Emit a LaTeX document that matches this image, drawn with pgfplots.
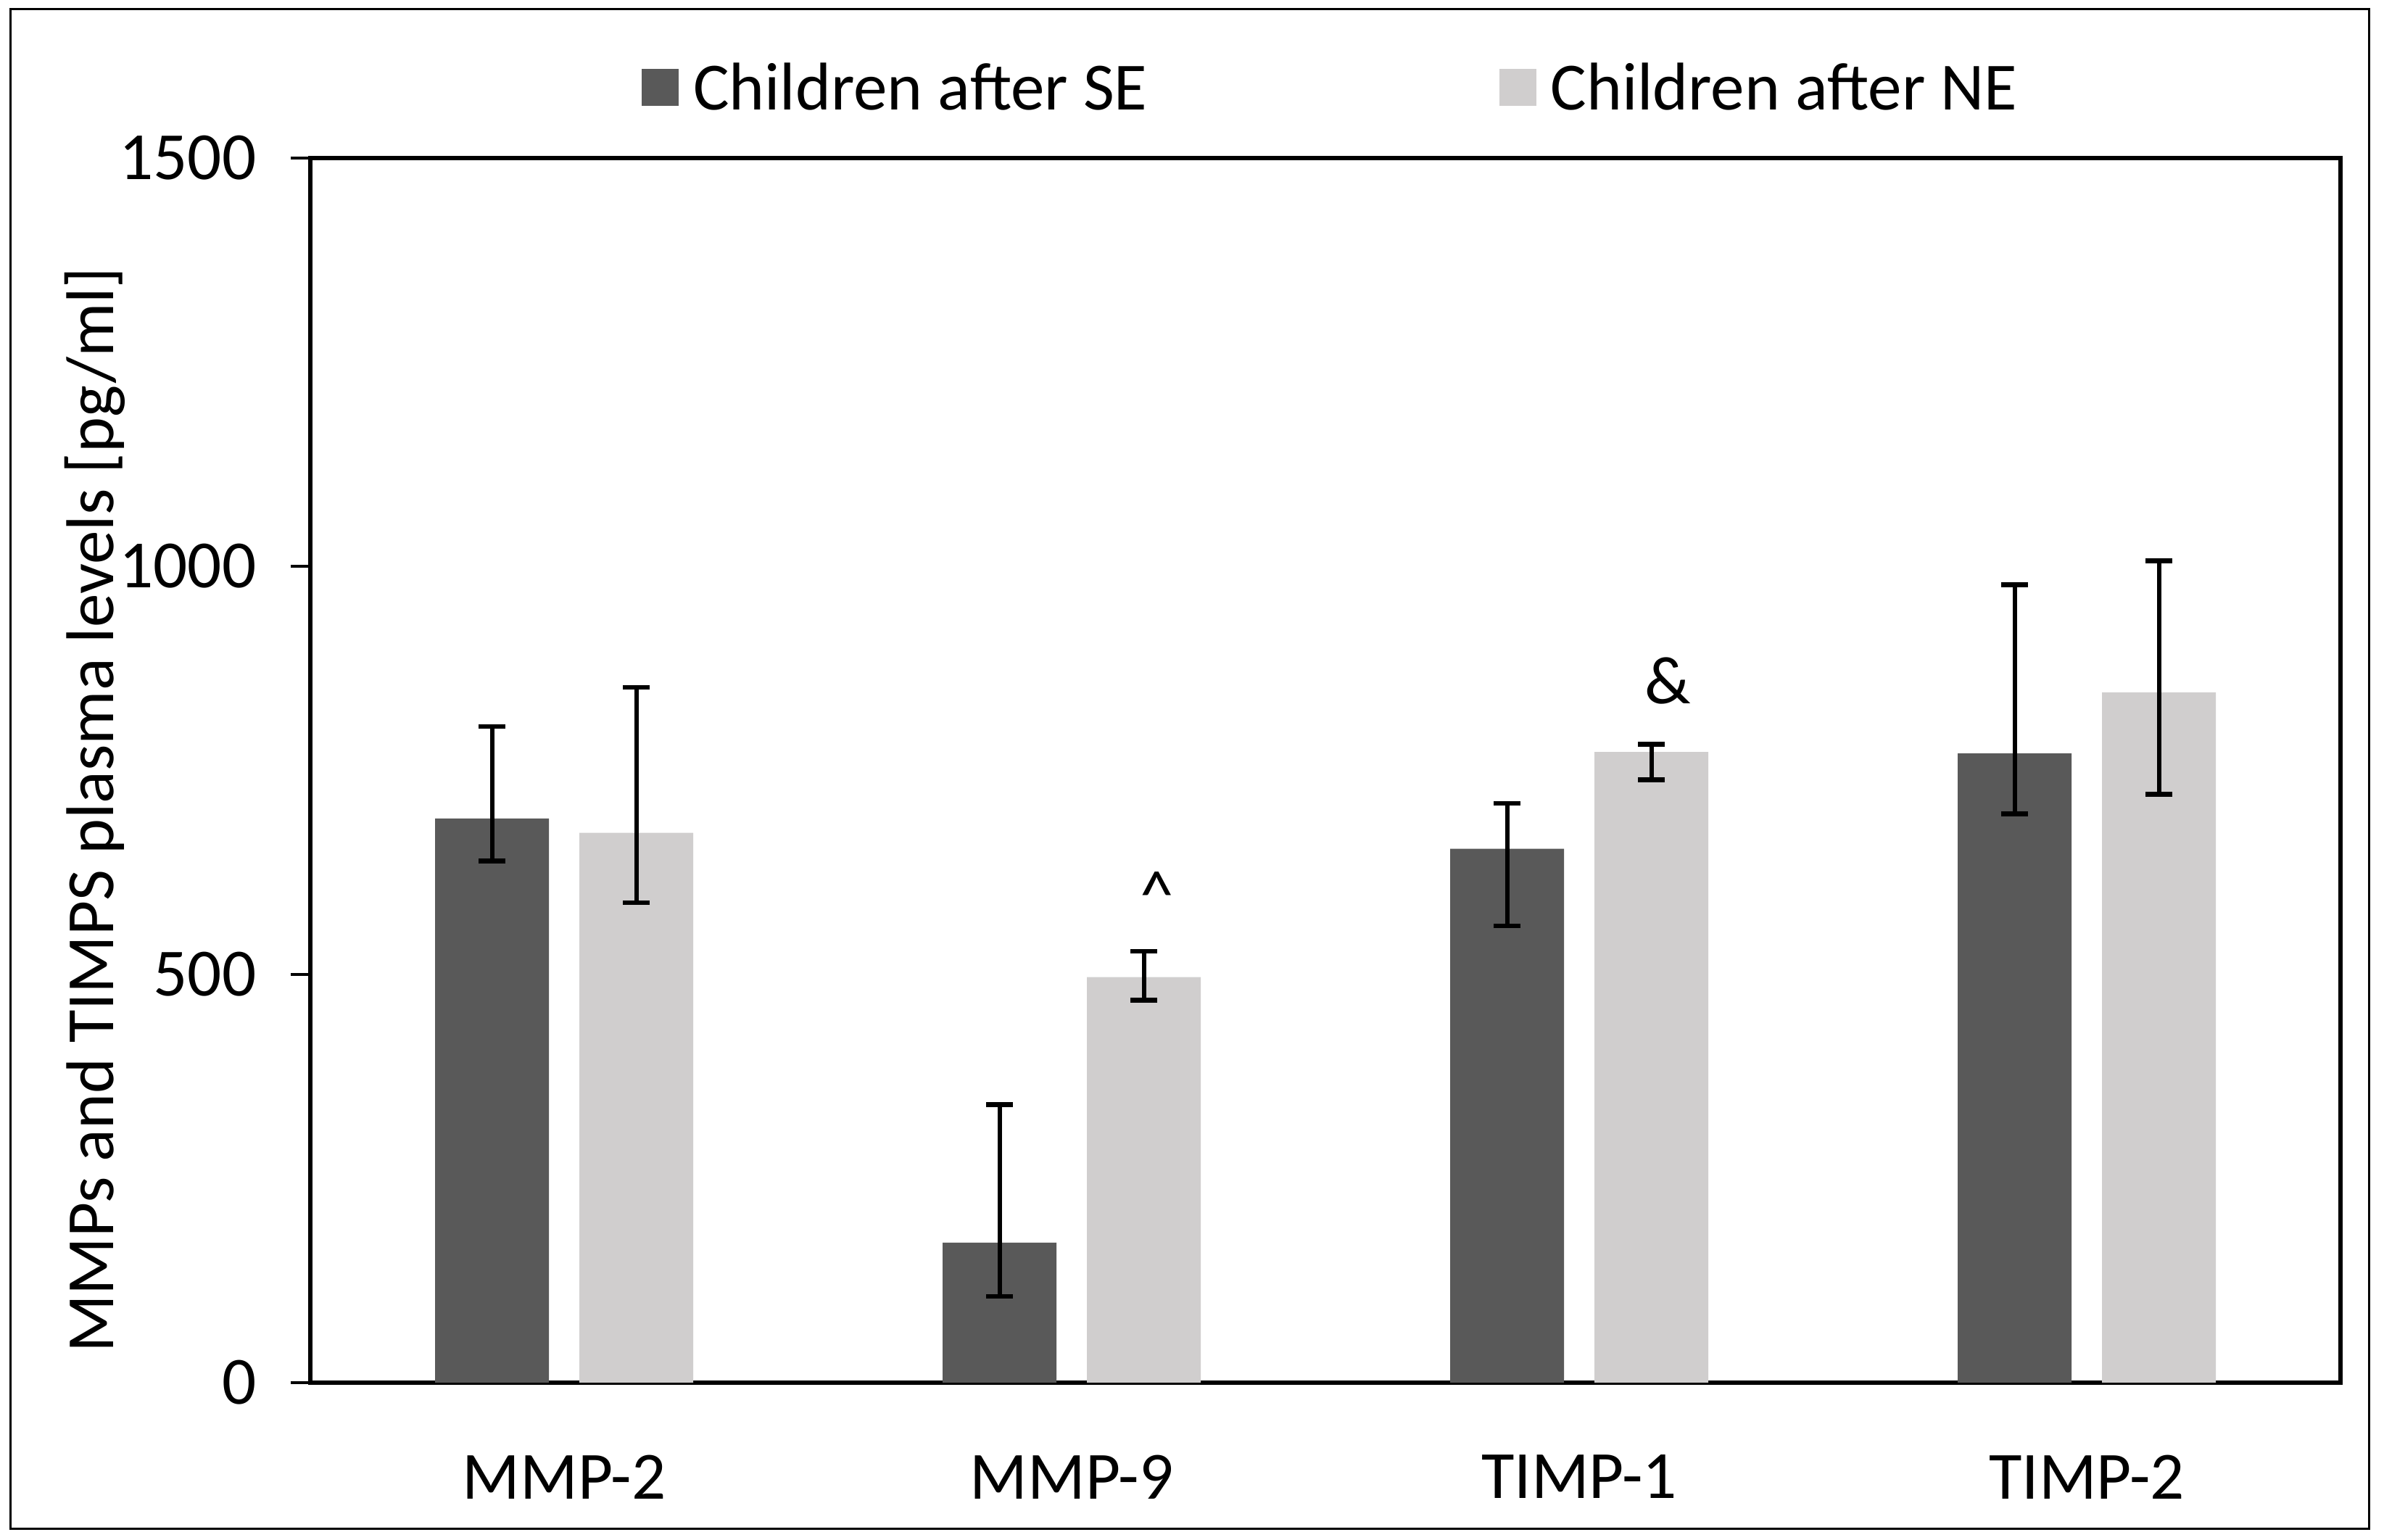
\documentclass[border=0pt]{standalone}
\usepackage{pgfplots}
\pgfplotsset{compat=1.18}
\usepackage{pgfplotstable}
\usepackage{fontspec}
\setmainfont{Carlito}
\definecolor{darkbar}{HTML}{595959}
\definecolor{lightbar}{HTML}{D0CECE}
\newcommand{\chartfont}{\fontsize{18.7}{22}\selectfont}

% mean, upper and lower error (pg/ml)
\pgfplotstableread{
x y ep em
0 691.0 112.7 52.0
1 171.6 168.8 65.7
2 654.0 55.6 94.5
3 770.8 206.4 74.3
}\se
\pgfplotstableread{
x y ep em
0 673.4 178.5 85.4
1 496.7 31.7 28.3
2 772.6 9.2 34.3
3 845.5 161.0 125.0
}\ne

\begin{document}
\begin{tikzpicture}
\path (0,0) rectangle (657.6bp,424.8bp);
\draw[line width=0.6bp] (2.8bp,3bp) rectangle (653.4bp,422.2bp);
\begin{axis}[
  at={(85.6bp,43.4bp)}, anchor=south west,
  width=560bp, height=337.8bp, scale only axis,
  xmin=-0.5, xmax=3.5, ymin=0, ymax=1500,
  ybar=8.4bp, bar width=31.4bp,
  xtick={0,1,2,3}, xticklabels={MMP-2,MMP-9,TIMP-1,TIMP-2},
  ytick={0,500,1000,1500},
  xtick style={draw=none},
  ytick pos=left, tick align=outside,
  major tick length=5.4bp,
  ytick style={line width=0.9bp, black},
  axis line style={line width=1.3bp},
  /pgf/number format/assume math mode=true,
  /pgf/number format/1000 sep={},
  tick label style={font=\chartfont},
  xticklabel style={yshift=-11bp},
  yticklabel style={xshift=-6bp},
  ylabel={MMPs and TIMPS plasma levels [pg/ml]},
  ylabel style={font=\chartfont, at={(axis description cs:-0.0968,0.4677)}, anchor=base},
  legend columns=2,
  legend style={at={(axis description cs:0.1629,1.0562)}, anchor=west, draw=none, fill=none,
    font=\chartfont, inner sep=0pt,
    /tikz/every odd column/.append style={column sep=2bp},
    /tikz/every even column/.append style={column sep=95bp}},
  legend image code/.code={\fill[#1] (0bp,-4.5bp) rectangle (10.2bp,5.7bp);},
  error bars/y dir=both, error bars/y explicit,
  error bars/error bar style={line width=1.2bp, black},
  error bars/error mark options={rotate=90, mark size=3.7bp, line width=1.3bp, black},
]
\addplot[fill=darkbar, draw=none] table[x=x, y=y, y error plus=ep, y error minus=em] {\se};
\addlegendentry{Children after SE}
\addplot[fill=lightbar, draw=none] table[x=x, y=y, y error plus=ep, y error minus=em] {\ne};
\addlegendentry{Children after NE}
\node[anchor=base, font=\chartfont] at ([xshift=23.6bp]axis cs:1,570) {\textasciicircum};
\node[anchor=base, font=\chartfont] at ([xshift=24.4bp]axis cs:2,832) {\&};
\end{axis}
\end{tikzpicture}
\end{document}
